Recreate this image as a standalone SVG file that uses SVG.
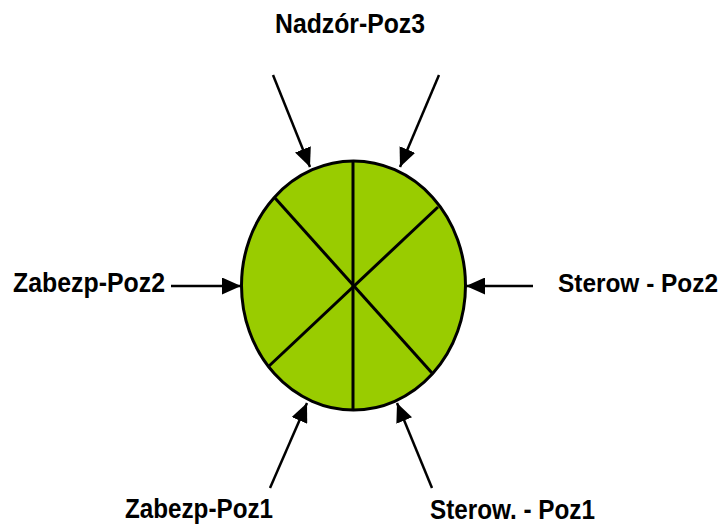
<svg xmlns="http://www.w3.org/2000/svg" width="725" height="525" viewBox="0 0 725 525">
<style>
.lbl{font-family:"Liberation Sans",Arial,sans-serif;font-weight:bold;font-size:27px;fill:#000}
.conn{stroke:#000;stroke-width:2.5;fill:none}
.div{stroke:#000;stroke-width:3;fill:none}
</style>
<defs>
<marker id="ah" markerUnits="userSpaceOnUse" markerWidth="20" markerHeight="17" refX="19" refY="8.5" orient="auto">
<path d="M0,0 L19,8.5 L0,17 Z" fill="#000"/>
</marker>
</defs>
<rect width="725" height="525" fill="#fff"/>
<g id="circle">
<ellipse cx="353.5" cy="285.5" rx="112" ry="124.5" fill="#99CC00" stroke="#000" stroke-width="3"/>
<line class="div" x1="353" y1="161" x2="353" y2="410"/>
<line class="div" x1="275" y1="198" x2="432" y2="373"/>
<line class="div" x1="438" y1="207" x2="268" y2="367"/>
</g>
<g id="connectors">
<line class="conn" x1="273" y1="75" x2="310" y2="167" marker-end="url(#ah)"/>
<line class="conn" x1="439" y1="75" x2="400" y2="167" marker-end="url(#ah)"/>
<line class="conn" x1="171" y1="286" x2="241" y2="286" marker-end="url(#ah)"/>
<line class="conn" x1="533" y1="286" x2="466" y2="286" marker-end="url(#ah)"/>
<line class="conn" x1="270" y1="488" x2="307" y2="403" marker-end="url(#ah)"/>
<line class="conn" x1="432" y1="488" x2="397" y2="403" marker-end="url(#ah)"/>
</g>
<g id="label-nadzor"><text class="lbl" x="275" y="33" textLength="150" lengthAdjust="spacingAndGlyphs">Nadzór-Poz3</text></g>
<g id="label-zabezp2"><text class="lbl" x="13" y="292" textLength="152" lengthAdjust="spacingAndGlyphs">Zabezp-Poz2</text></g>
<g id="label-sterow2"><text class="lbl" x="558" y="292" style="font-size:25px" textLength="160" lengthAdjust="spacingAndGlyphs">Sterow - Poz2</text></g>
<g id="label-zabezp1"><text class="lbl" x="125" y="518" textLength="148" lengthAdjust="spacingAndGlyphs">Zabezp-Poz1</text></g>
<g id="label-sterow1"><text class="lbl" x="430" y="519" textLength="165" lengthAdjust="spacingAndGlyphs">Sterow. - Poz1</text></g>
</svg>
